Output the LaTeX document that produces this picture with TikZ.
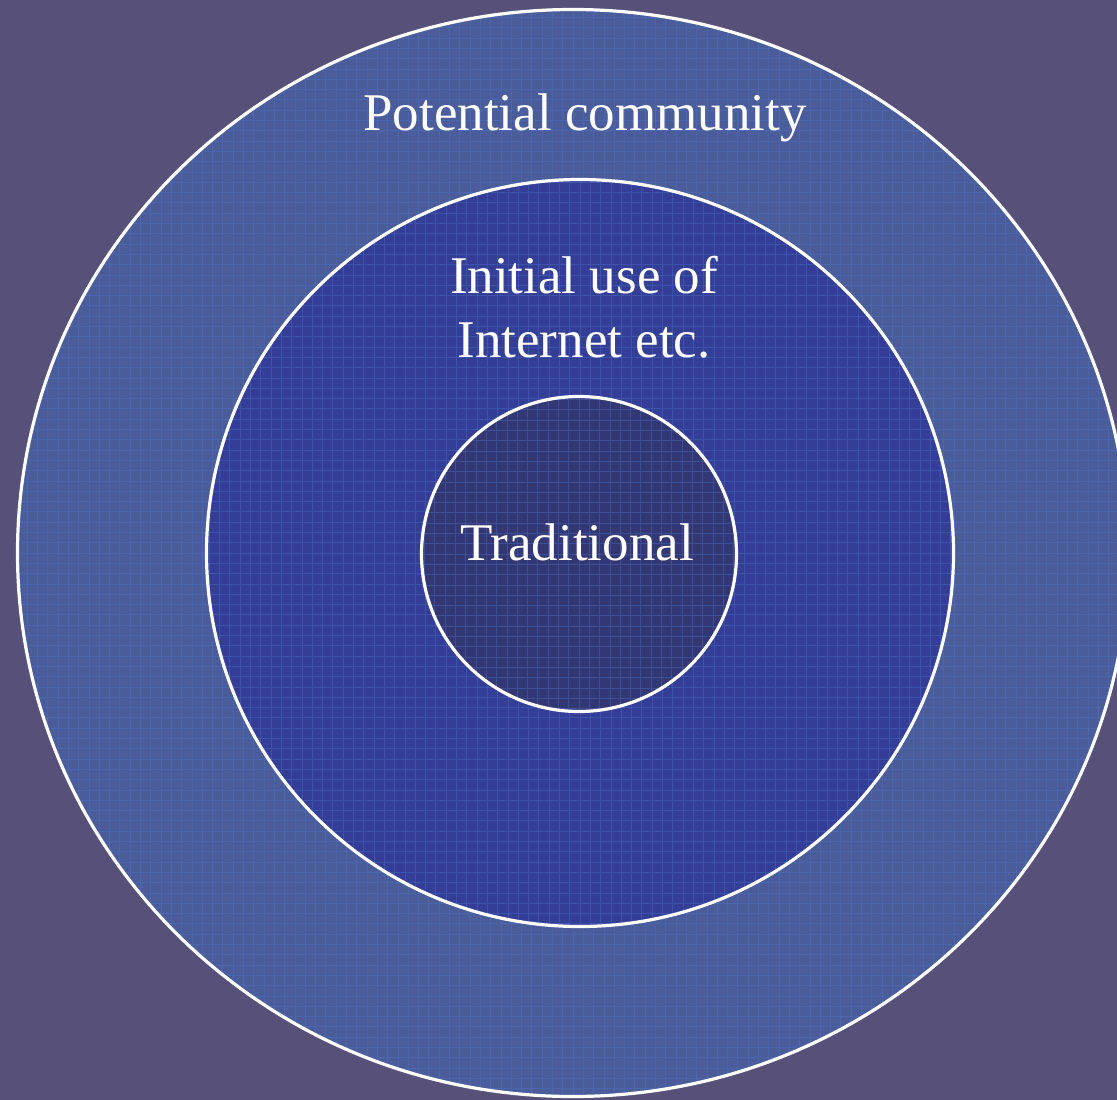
\documentclass[tikz,border=0pt]{standalone}
\usepackage{fontspec}
\setmainfont{Liberation Serif}
\usetikzlibrary{shapes.geometric}
\definecolor{bgc}{RGB}{87,80,120}
\definecolor{outerc}{RGB}{74,93,154}
\definecolor{midc}{RGB}{52,62,150}
\definecolor{innerc}{RGB}{51,56,116}
\definecolor{gridc}{RGB}{80,120,210}
\tikzset{
  ring/.style={draw=white, line width=3.2pt, inner sep=0pt, outer sep=0pt,
    path picture={\draw[gridc, opacity=0.35, line width=0.8pt]
      (path picture bounding box.south west) grid[step=10.3pt]
      (path picture bounding box.north east);}},
  lbl/.style={text=white, font=\fontsize{53pt}{64pt}\selectfont, inner sep=0pt, anchor=base, align=center}
}
\begin{document}
\begin{tikzpicture}[x=1pt,y=-1pt]
\useasboundingbox (0,0) rectangle (1117,1100);
\clip (0,0) rectangle (1117,1100);
\fill[bgc] (0,0) rectangle (1117,1100);
\node[ring, ellipse, fill=outerc, minimum width=1111pt, minimum height=1087pt] (outer) at (573,553) {};
\node[ring, circle, fill=midc, minimum size=747pt] (mid) at (580,553) {};
\node[ring, circle, fill=innerc, minimum size=315pt] (inner) at (579,554) {};
\node[lbl] (tpot) at (585,130) {Potential community};
\node[lbl] (tini1) at (584,293) {Initial use of};
\node[lbl] (tini2) at (584,357) {Internet etc.};
\node[lbl] (ttrad) at (577,560) {Traditional};
\end{tikzpicture}
\end{document}
